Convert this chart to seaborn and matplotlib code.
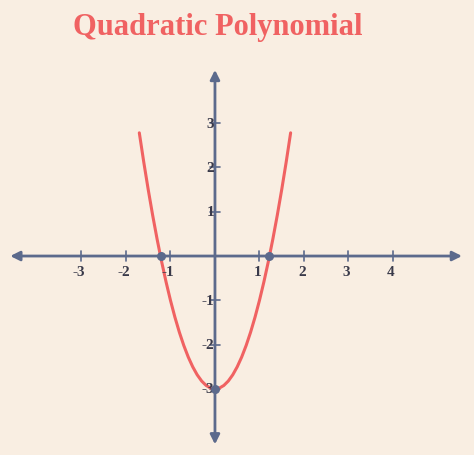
import matplotlib
matplotlib.use("Agg")
import matplotlib.pyplot as plt
import seaborn as sns
import pandas as pd

curve_x = [-1.7,-1.6,-1.5,-1.4,-1.3,-1.2,-1.1,-1.0,-0.9,-0.8,-0.7,-0.6,-0.5,-0.4,-0.3,-0.2,-0.1,0.0,
           0.1,0.2,0.3,0.4,0.5,0.6,0.7,0.8,0.9,1.0,1.1,1.2,1.3,1.4,1.5,1.6,1.7]
curve_y = [2.78,2.12,1.5,0.92,0.38,-0.12,-0.58,-1.0,-1.38,-1.72,-2.02,-2.28,-2.5,-2.68,-2.82,-2.92,-2.98,-3.0,
           -2.98,-2.92,-2.82,-2.68,-2.5,-2.28,-2.02,-1.72,-1.38,-1.0,-0.58,-0.12,0.38,0.92,1.5,2.12,2.78]
point_x = [-1.22, 1.22, 0.0]
point_y = [0.0, 0.0, -3.0]
x_ticks = [-3, -2, -1, 1, 2, 3, 4]
y_ticks = [-3, -2, -1, 1, 2, 3]

bg = "#f9eee2"
axc = "#5c6a8c"
red = "#f06262"

sns.set_theme(style="white")
fig = plt.figure(figsize=(4.74, 4.56), dpi=100, facecolor=bg)
ax = fig.add_axes([0, 0, 1, 1])
ax.set_facecolor(bg)
ax.set_xlim(-4.83, 5.82)
ax.set_ylim(-4.49, 5.80)
ax.axis("off")

ap = dict(arrowstyle="<|-|>", color=axc, lw=2, mutation_scale=14, shrinkA=0, shrinkB=0)
ax.annotate("", xy=(-4.6, 0), xytext=(5.55, 0), arrowprops=ap)
ax.annotate("", xy=(0, -4.25), xytext=(0, 4.2), arrowprops=ap)

for t in x_ticks:
    ax.plot([t, t], [-0.12, 0.12], color=axc, lw=1.2)
    ax.text(t - 0.05, -0.2, str(t), ha="center", va="top", family="Liberation Serif",
            fontweight="bold", fontsize=11, color="#3a3a4a")
for t in y_ticks:
    ax.plot([-0.12, 0.12], [t, t], color=axc, lw=1.2)
    ax.text(-0.02, t, str(t), ha="right", va="center", family="Liberation Serif",
            fontweight="bold", fontsize=11, color="#3a3a4a")

df = pd.DataFrame({"x": curve_x, "y": curve_y})
sns.lineplot(data=df, x="x", y="y", sort=False, color=red, lw=2.2, ax=ax)
ax.scatter(point_x, point_y, s=30, color=axc, zorder=5)
ax.axis("off")

fig.text(0.46, 0.94, "Quadratic Polynomial", ha="center", va="center", color=red,
         family="Liberation Serif", fontweight="bold", fontsize=22)
fig.savefig("out.png", dpi=100, facecolor=bg)
